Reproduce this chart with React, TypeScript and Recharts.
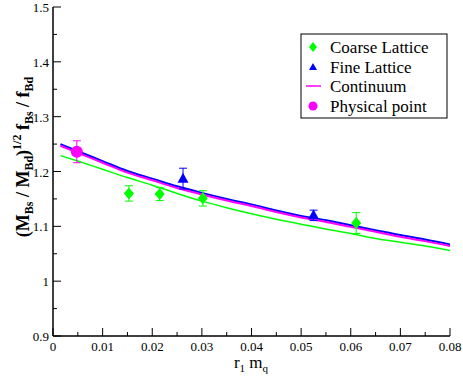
import React from 'react';
import { ComposedChart, Line, Scatter, XAxis, YAxis, ErrorBar, Customized } from 'recharts';

// ---------- data ----------
const xMajorTicks = [0, 0.01, 0.02, 0.03, 0.04, 0.05, 0.06, 0.07, 0.08];
const xTickLabels = ['0', '0.01', '0.02', '0.03', '0.04', '0.05', '0.06', '0.07', '0.08'];
const xMinorTicks = [0.005, 0.015, 0.025, 0.035, 0.045, 0.055, 0.065, 0.075];
const yMajorTicks = [0.9, 1.0, 1.1, 1.2, 1.3, 1.4, 1.5];
const yTickLabels = ['0.9', '1', '1.1', '1.2', '1.3', '1.4', '1.5'];
const yMinorTicks = [0.95, 1.05, 1.15, 1.25, 1.35, 1.45];

const coarseX = [0.0153, 0.0215, 0.0302, 0.0611];
const coarseY = [1.160, 1.159, 1.151, 1.106];
const coarseErr = [0.014, 0.012, 0.014, 0.019];

const fineX = [0.0262, 0.0525];
const fineY = [1.187, 1.120];
const fineErr = [0.019, 0.0095];

const physX = [0.0048];
const physY = [1.236];
const physErr = [0.02];

const curveX = [0.0015, 0.005, 0.01, 0.015, 0.02, 0.025, 0.03, 0.035, 0.04, 0.045, 0.05, 0.055, 0.06, 0.065, 0.07, 0.075, 0.08];
const fineFitY = [1.250, 1.237, 1.219, 1.201, 1.187, 1.173, 1.161, 1.150, 1.140, 1.129, 1.119, 1.111, 1.102, 1.093, 1.084, 1.076, 1.067];
const continuumY = [1.247, 1.234, 1.216, 1.198, 1.184, 1.170, 1.158, 1.147, 1.137, 1.126, 1.116, 1.108, 1.099, 1.090, 1.081, 1.073, 1.064];
const coarseFitY = [1.229, 1.219, 1.204, 1.189, 1.175, 1.160, 1.146, 1.134, 1.123, 1.113, 1.104, 1.095, 1.087, 1.078, 1.071, 1.064, 1.056];

const legendLabels = ['Coarse Lattice', 'Fine Lattice', 'Continuum', 'Physical point'];

// ---------- derived tables ----------
const pts = (xs: number[], ys: number[], es?: number[]) =>
  xs.map((x, i) => (es ? { x, y: ys[i], e: es[i] } : { x, y: ys[i] }));

const coarseData = pts(coarseX, coarseY, coarseErr);
const fineData = pts(fineX, fineY, fineErr);
const physData = pts(physX, physY, physErr);
const fineFitData = pts(curveX, fineFitY);
const continuumData = pts(curveX, continuumY);
const coarseFitData = pts(curveX, coarseFitY);

const xTicks = [...xMajorTicks, ...xMinorTicks].sort((a, b) => a - b);
const yTicks = [...yMajorTicks, ...yMinorTicks].sort((a, b) => a - b);

const FONT = "Liberation Serif, Times New Roman, Times, DejaVu Serif, Noto Serif, serif";
const serif = { fontFamily: FONT };
const GREEN = '#00ff00';
const BLUE = '#0000ff';
const MAGENTA = '#ff00ff';
const MAJOR = 8;
const MINOR = 4;

const idx = (arr: number[], v: number) => arr.findIndex((t) => Math.abs(t - v) < 1e-9);

const BottomTick = (p: any) => {
  const i = idx(xMajorTicks, p.payload.value);
  const len = i >= 0 ? MAJOR : MINOR;
  return (
    <g>
      <line x1={p.x} x2={p.x} y1={p.y} y2={p.y - len} stroke="#000" strokeWidth={1} />
      {i >= 0 && (
        <text x={p.x} y={p.y + 15} textAnchor="middle" fontFamily={FONT} style={{ ...serif, fontSize: 13 }} fill="#000">
          {xTickLabels[i]}
        </text>
      )}
    </g>
  );
};
const TopTick = (p: any) => {
  const i = idx(xMajorTicks, p.payload.value);
  const len = i >= 0 ? MAJOR : MINOR;
  return <line x1={p.x} x2={p.x} y1={p.y} y2={p.y + len} stroke="#000" strokeWidth={1} />;
};
const LeftTick = (p: any) => {
  const i = idx(yMajorTicks, p.payload.value);
  const len = i >= 0 ? MAJOR : MINOR;
  return (
    <g>
      <line x1={p.x} x2={p.x + len} y1={p.y} y2={p.y} stroke="#000" strokeWidth={1} />
      {i >= 0 && (
        <text x={p.x - 4} y={p.y + 5} textAnchor="end" fontFamily={FONT} style={{ ...serif, fontSize: 13 }} fill="#000">
          {yTickLabels[i]}
        </text>
      )}
    </g>
  );
};
const RightTick = (p: any) => {
  const i = idx(yMajorTicks, p.payload.value);
  const len = i >= 0 ? MAJOR : MINOR;
  return <line x1={p.x} x2={p.x - len} y1={p.y} y2={p.y} stroke="#000" strokeWidth={1} />;
};

const Diamond = (p: any) => (
  <path d={`M${p.cx},${p.cy - 6} L${p.cx + 5},${p.cy} L${p.cx},${p.cy + 6} L${p.cx - 5},${p.cy} Z`} fill={GREEN} />
);
const Triangle = (p: any) => (
  <path d={`M${p.cx},${p.cy - 6} L${p.cx + 5.5},${p.cy + 4} L${p.cx - 5.5},${p.cy + 4} Z`} fill={BLUE} />
);
const Circle = (p: any) => <circle cx={p.cx} cy={p.cy} r={6} fill={MAGENTA} />;

const Decorations = () => {
  const lx = 301, ly = 34, lw = 146, lh = 84;
  const mx = 313, tx = 330;
  const rows = [47, 67, 86, 106];
  return (
    <g style={serif}>
      {/* y-axis title */}
      <text
        transform="translate(29,157) rotate(-90)"
        textAnchor="middle"
        fontFamily={FONT}
        style={{ ...serif, fontSize: 18, fontWeight: 'bold' }}
        fill="#000"
      >
        <tspan>(M</tspan>
        <tspan style={{ fontSize: 12 }} dy={4}>Bs</tspan>
        <tspan dy={-4}> / M</tspan>
        <tspan style={{ fontSize: 12 }} dy={4}>Bd</tspan>
        <tspan dy={-4}>)</tspan>
        <tspan style={{ fontSize: 12 }} dy={-8}>1/2</tspan>
        <tspan dy={8}> f</tspan>
        <tspan style={{ fontSize: 12 }} dy={4}>Bs</tspan>
        <tspan dy={-4}> / f</tspan>
        <tspan style={{ fontSize: 12 }} dy={4}>Bd</tspan>
      </text>
      {/* x-axis title */}
      <text x={251} y={368} textAnchor="middle" fontFamily={FONT} style={{ ...serif, fontSize: 17 }} fill="#000">
        <tspan>r</tspan>
        <tspan style={{ fontSize: 11 }} dy={4}>1</tspan>
        <tspan dy={-4}> m</tspan>
        <tspan style={{ fontSize: 11 }} dy={4}>q</tspan>
      </text>
      {/* legend */}
      <rect x={lx} y={ly} width={lw} height={lh} fill="#fff" stroke="#000" strokeWidth={1} />
      <path d={`M${mx},${rows[0] - 5} L${mx + 4},${rows[0]} L${mx},${rows[0] + 5} L${mx - 4},${rows[0]} Z`} fill={GREEN} />
      <path d={`M${mx},${rows[1] - 4} L${mx + 4},${rows[1] + 3} L${mx - 4},${rows[1] + 3} Z`} fill={BLUE} />
      <line x1={mx - 7} x2={mx + 8} y1={rows[2]} y2={rows[2]} stroke={MAGENTA} strokeWidth={1.5} />
      <circle cx={mx} cy={rows[3]} r={4.5} fill={MAGENTA} />
      {legendLabels.map((l, i) => (
        <text key={l} x={tx} y={rows[i] + 5.5} fontFamily={FONT} style={{ ...serif, fontSize: 17 }} fill="#000">
          {l}
        </text>
      ))}
    </g>
  );
};

export default function App() {
  return (
    <div style={{ position: 'absolute', left: 0, top: 0, width: 463, height: 382, background: '#fff', fontFamily: FONT }}>
      <ComposedChart width={463} height={382} margin={{ top: 7, right: 13, bottom: 0, left: 0 }} style={serif}>
        <XAxis
          xAxisId="main"
          dataKey="x"
          type="number"
          domain={[0, 0.08]}
          ticks={xTicks}
          interval={0}
          allowDataOverflow
          height={46}
          tickSize={0}
          tickMargin={0}
          tickLine={false}
          axisLine={{ stroke: '#000', strokeWidth: 1.5 }}
          tick={BottomTick}
        />
        <XAxis
          xAxisId="top"
          orientation="top"
          type="number"
          domain={[0, 0.08]}
          ticks={xTicks}
          interval={0}
          allowDataOverflow
          height={0}
          tickSize={0}
          tickMargin={0}
          tickLine={false}
          axisLine={{ stroke: '#000', strokeWidth: 1.5 }}
          tick={TopTick}
        />
        <YAxis
          yAxisId="main"
          dataKey="y"
          type="number"
          domain={[0.9, 1.5]}
          ticks={yTicks}
          interval={0}
          allowDataOverflow
          width={53}
          tickSize={0}
          tickMargin={0}
          tickLine={false}
          axisLine={{ stroke: '#000', strokeWidth: 1.5 }}
          tick={LeftTick}
        />
        <YAxis
          yAxisId="right"
          orientation="right"
          type="number"
          domain={[0.9, 1.5]}
          ticks={yTicks}
          interval={0}
          allowDataOverflow
          width={0}
          tickSize={0}
          tickMargin={0}
          tickLine={false}
          axisLine={{ stroke: '#555', strokeWidth: 1.5 }}
          tick={RightTick}
        />
        <Line xAxisId="main" yAxisId="main" data={coarseFitData} dataKey="y" type="monotone" stroke={GREEN} strokeWidth={1.5} dot={false} activeDot={false} isAnimationActive={false} />
        <Line xAxisId="main" yAxisId="main" data={fineFitData} dataKey="y" type="monotone" stroke={BLUE} strokeWidth={2} dot={false} activeDot={false} isAnimationActive={false} />
        <Line xAxisId="main" yAxisId="main" data={continuumData} dataKey="y" type="monotone" stroke={MAGENTA} strokeWidth={2} dot={false} activeDot={false} isAnimationActive={false} />
        <Scatter xAxisId="main" yAxisId="main" data={coarseData} dataKey="y" shape={Diamond} isAnimationActive={false}>
          <ErrorBar dataKey="e" direction="y" width={4} stroke={GREEN} strokeWidth={1} />
        </Scatter>
        <Scatter xAxisId="main" yAxisId="main" data={fineData} dataKey="y" shape={Triangle} isAnimationActive={false}>
          <ErrorBar dataKey="e" direction="y" width={4} stroke={BLUE} strokeWidth={1} />
        </Scatter>
        <Scatter xAxisId="main" yAxisId="main" data={physData} dataKey="y" shape={Circle} isAnimationActive={false}>
          <ErrorBar dataKey="e" direction="y" width={4} stroke={MAGENTA} strokeWidth={1} />
        </Scatter>
        <Customized component={Decorations} />
      </ComposedChart>
    </div>
  );
}
